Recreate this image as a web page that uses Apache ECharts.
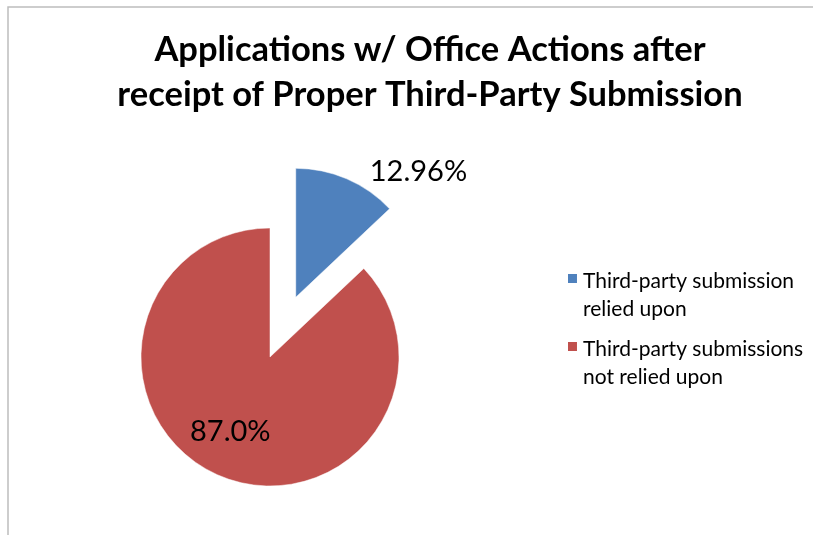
<!DOCTYPE html>
<html>
<head>
<meta charset="utf-8">
<script src="https://cdn.jsdelivr.net/npm/echarts@6/dist/echarts.min.js"></script>
<style>html,body{margin:0;padding:0;background:#fff}#c{width:813px;height:535px}</style>
</head>
<body>
<div id="c"></div>
<script>
const titleText = "Applications w/ Office Actions after\nreceipt of Proper Third-Party Submission";
const categories = ["Third-party submission\nrelied upon", "Third-party submissions\nnot relied upon"];
const values = [12.96, 87.04];
const labels = ["12.96%", "87.0%"];
const colors = ["#4F81BD", "#C0504D"];

const chart = echarts.init(document.getElementById('c'), null, {renderer: 'canvas'});
const FONT = 'Lato, "Open Sans", sans-serif';
const labelOffsets = [[96, -64], [-13, 13]];
chart.setOption({
  animation: false,
  title: {
    text: titleText,
    left: 425, top: 22, textAlign: 'center',
    textStyle: {fontFamily: FONT, fontWeight: 'bold', fontSize: 34.5, lineHeight: 45, color: '#000'}
  },
  legend: {
    orient: 'vertical', left: 561, top: 261,
    itemWidth: 11, itemHeight: 56, itemGap: 10,
    icon: 'path://M0,0L0,0ZM0,5.5L10,5.5L10,15.5L0,15.5ZM0,51L0,51Z',
    textStyle: {fontFamily: FONT, fontSize: 21, lineHeight: 28, color: '#000'},
    data: categories
  },
  graphic: [{
    type: 'rect', shape: {x: 8, y: 7, width: 900, height: 700},
    style: {fill: 'none', stroke: '#bdbdbd', lineWidth: 1.5}, silent: true
  }],
  series: [{
    type: 'pie',
    center: [270, 357], radius: 129,
    startAngle: 90, clockwise: true,
    selectedMode: 'single', selectedOffset: 65,
    emphasis: {disabled: true},
    labelLine: {show: false},
    itemStyle: {borderColor: '#fff', borderWidth: 0.5},
    data: categories.map((c, i) => ({
      name: c, value: values[i], selected: i === 0,
      itemStyle: {color: colors[i]},
      label: {
        show: true, position: 'inside',
        formatter: labels[i],
        fontFamily: FONT, fontSize: 29, color: '#000',
        offset: labelOffsets[i]
      },
      select: {label: {show: true, offset: labelOffsets[i], formatter: labels[i], fontFamily: FONT, fontSize: 29, color: '#000'}}
    }))
  }]
});
</script>
</body>
</html>
